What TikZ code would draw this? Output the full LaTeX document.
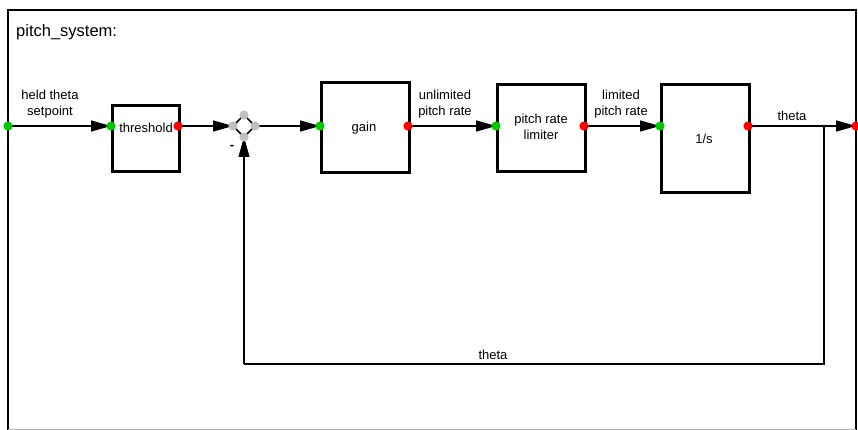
\documentclass[tikz,border=0pt]{standalone}
\usepackage{fontspec}
\setmainfont{Liberation Sans}
\usetikzlibrary{arrows.meta}
\definecolor{portgreen}{RGB}{0,200,0}
\definecolor{portred}{RGB}{255,0,0}
\definecolor{portgray}{RGB}{192,192,192}
\begin{document}
\begin{tikzpicture}[x=1pt,y=-1pt,
  blk/.style={draw,line width=2.6pt,rectangle,inner sep=0pt,anchor=north west},
  txt/.style={inner sep=0pt,font=\fontsize{13}{15.5}\selectfont,align=center},
  conn/.style={line width=1.4pt,-{Triangle[length=20pt,width=11pt]}},
  wire/.style={line width=1.1pt},
  inport/.style={fill=portgreen},
  outport/.style={fill=portred},
  sumport/.style={fill=portgray}]
\useasboundingbox (0,0) rectangle (858,430);
% frame
\draw[line width=2pt] (8,430) -- (8,10) -- (856,10) -- (856,430);
\draw[line width=1pt,gray!60] (8,429) -- (856,429);
\node[anchor=west,inner sep=0pt,font=\fontsize{16.5}{18}\selectfont] (title) at (16,32) {pitch\_system:};
% blocks
\node[blk,minimum width=67pt,minimum height=66pt] (thr) at (111,104) {};
\node[txt] (thrt) at (146,128) {threshold};
\node[blk,minimum width=88pt,minimum height=90pt] (gain) at (320,81) {};
\node[txt] (gaint) at (364,128) {gain};
\node[blk,minimum width=88pt,minimum height=87pt] (prl) at (496,83) {};
\node[txt] (prlt) at (541,127) {pitch rate\\limiter};
\node[blk,minimum width=88pt,minimum height=108pt] (integ) at (660,83) {};
\node[txt] (integt) at (704,139) {1/s};
% sum junction
\coordinate (sumW) at (233,126);
\coordinate (sumE) at (255,126);
\coordinate (sumN) at (244,115);
\coordinate (sumS) at (244,137);
\draw[line width=1.6pt] (sumW) -- (sumN) -- (sumE) -- (sumS) -- cycle;
\node[txt,font=\fontsize{13}{15}\selectfont\bfseries] (minus) at (232,147) {-};
% ports
\coordinate (inP) at (8,126);
\coordinate (thrIn) at (111,126);
\coordinate (thrOut) at (178,126);
\coordinate (gainIn) at (320,126);
\coordinate (gainOut) at (408,126);
\coordinate (prlIn) at (496,126);
\coordinate (prlOut) at (584,126);
\coordinate (intIn) at (660,126);
\coordinate (intOut) at (748,126);
\coordinate (outP) at (856,126);
\coordinate (br) at (824,126);
\coordinate (fb1) at (824,364);
\coordinate (fb2) at (244,364);
% connectors
\draw[conn] (inP) -- (thrIn);
\draw[conn] (thrOut) -- (sumW);
\draw[conn] (sumE) -- (gainIn);
\draw[conn] (gainOut) -- (prlIn);
\draw[conn] (prlOut) -- (intIn);
\draw[conn] (intOut) -- (outP);
\draw[wire] (br) -- (fb1) -- (fb2);
\draw[-{Triangle[length=20pt,width=11pt]},line width=1.1pt] (fb2) -- (sumS);
% labels
\node[txt] (l1) at (50,104) {held theta\\setpoint};
\node[txt] (l2) at (445,104) {unlimited\\pitch rate};
\node[txt] (l3) at (621,104) {limited\\pitch rate};
\node[txt] (l4) at (792,116) {theta};
\node[txt] (l5) at (493,355) {theta};
% port dots
\fill[inport] (inP) circle (4.6pt);
\fill[inport] (thrIn) circle (4.6pt);
\fill[outport] (thrOut) circle (4.6pt);
\fill[inport] (gainIn) circle (4.6pt);
\fill[outport] (gainOut) circle (4.6pt);
\fill[inport] (prlIn) circle (4.6pt);
\fill[outport] (prlOut) circle (4.6pt);
\fill[inport] (intIn) circle (4.6pt);
\fill[outport] (intOut) circle (4.6pt);
\fill[outport] (outP) circle (4.6pt);
\fill[sumport] (sumW) circle (4.6pt);
\fill[sumport] (sumE) circle (4.6pt);
\fill[sumport] (sumN) circle (4.6pt);
\fill[sumport] (sumS) circle (4.6pt);
\end{tikzpicture}
\end{document}
